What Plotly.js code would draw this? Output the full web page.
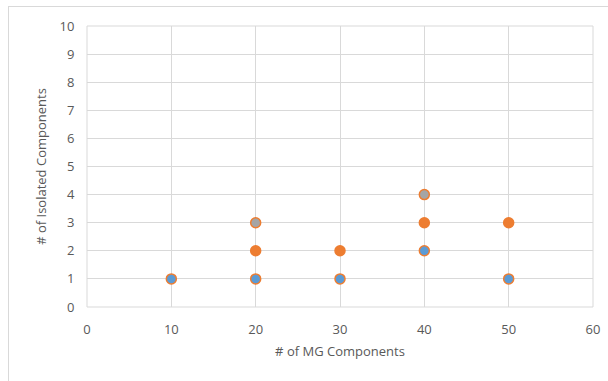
<!DOCTYPE html>
<html><head><meta charset="utf-8">
<script src="https://cdn.plot.ly/plotly-3.0.1.min.js"></script>
<style>
html,body{margin:0;padding:0;background:#fff;overflow:hidden;}
#frame{position:absolute;left:8px;top:6px;width:700px;height:500px;border:1px solid #d9d9d9;pointer-events:none;}
#chart{width:608px;height:381px;}
</style></head>
<body>
<div id="chart"></div>
<div id="frame"></div>
<script>
var blueX = [10, 20, 30, 40, 50];
var blueY = [1, 1, 1, 2, 1];
var orangeX = [20, 30, 40, 50];
var orangeY = [2, 2, 3, 3];
var greyX = [20, 40];
var greyY = [3, 4];
var xTicks = [0, 10, 20, 30, 40, 50, 60];
var yTicks = [0, 1, 2, 3, 4, 5, 6, 7, 8, 9, 10];

function series(x, y, fill) {
  return {x: x, y: y, type: 'scatter', mode: 'markers', hoverinfo: 'none', cliponaxis: false,
    marker: {size: 10, color: fill, line: {color: '#ED7D31', width: 1.5}}};
}
var data = [series(blueX, blueY, '#5B9BD5'), series(orangeX, orangeY, '#ED7D31'), series(greyX, greyY, '#A5A5A5')];
var layout = {
  width: 608, height: 381,
  margin: {l: 87, r: 15, t: 26, b: 74},
  showlegend: false,
  paper_bgcolor: '#fff', plot_bgcolor: '#fff',
  font: {family: 'Open Sans, Noto Sans, sans-serif', color: '#595959', size: 13},
  xaxis: {range: [0, 60], tickvals: xTicks, ticktext: xTicks.map(String), showgrid: true, gridcolor: '#d9d9d9',
    zeroline: false, showline: false, ticks: 'outside', ticklen: 10, tickcolor: 'rgba(0,0,0,0)',
    tickfont: {size: 13, color: '#595959'},
    title: {text: '# of MG Components', font: {size: 13, color: '#595959'}, standoff: 10}},
  yaxis: {range: [0, 10], tickvals: yTicks, ticktext: yTicks.map(String), showgrid: true, gridcolor: '#d9d9d9',
    zeroline: false, showline: false, ticks: 'outside', ticklen: 9, tickcolor: 'rgba(0,0,0,0)',
    tickfont: {size: 13, color: '#595959'},
    title: {text: '# of Isolated Components', font: {size: 13, color: '#595959'}, standoff: 9}},
  shapes: [{type: 'rect', xref: 'paper', yref: 'paper', x0: 0, x1: 1, y0: 0, y1: 1, line: {color: '#d9d9d9', width: 1}, layer: 'below'}]
};
Plotly.newPlot('chart', data, layout, {staticPlot: true, displayModeBar: false});
</script>
</body></html>
